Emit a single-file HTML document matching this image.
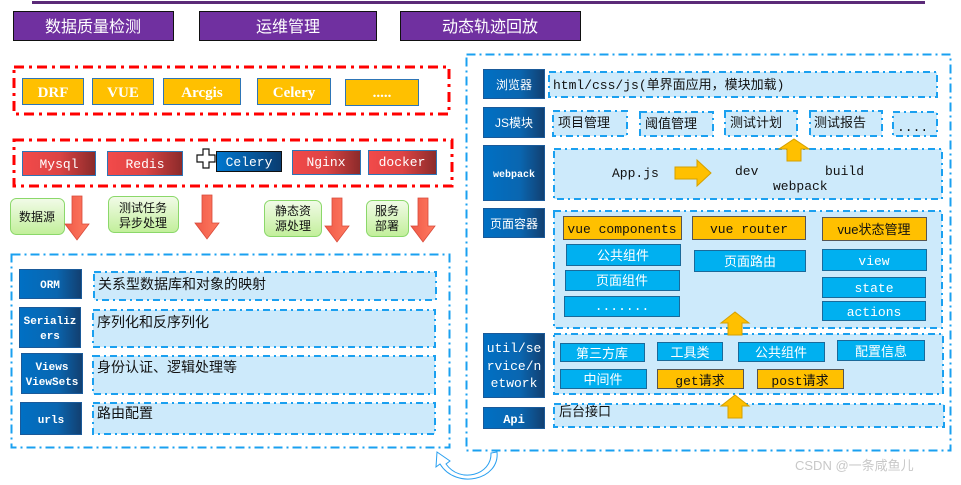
<!DOCTYPE html>
<html><head><meta charset="utf-8"><style>
html,body{margin:0;padding:0;background:#fff;width:961px;height:485px;overflow:hidden}
svg{display:block}
text{font-family:"Liberation Mono","Noto Sans CJK SC",monospace}
.cn{font-family:"Liberation Sans","Noto Sans CJK SC",sans-serif}
.sf{font-family:"Liberation Serif","Noto Serif CJK SC",serif}
.w{fill:#fff}
</style></head><body>
<svg width="961" height="485" viewBox="0 0 961 485" xmlns="http://www.w3.org/2000/svg">
<defs>
<linearGradient id="db" x1="0" x2="1"><stop offset="0" stop-color="#0070c4"/><stop offset="0.6" stop-color="#0a66b0"/><stop offset="1" stop-color="#123f70"/></linearGradient>
<linearGradient id="rd" x1="0" x2="1"><stop offset="0" stop-color="#f24a4a"/><stop offset="0.5" stop-color="#dd4444"/><stop offset="1" stop-color="#8a2a2a"/></linearGradient>
<linearGradient id="cb" x1="0" x2="1"><stop offset="0" stop-color="#0078d0"/><stop offset="1" stop-color="#0a3c70"/></linearGradient>
<linearGradient id="gr" x1="0" y1="0" x2="0" y2="1"><stop offset="0" stop-color="#f2fbe8"/><stop offset="1" stop-color="#c2ef9a"/></linearGradient>
<linearGradient id="ra" x1="0" x2="1"><stop offset="0" stop-color="#f05a48"/><stop offset="1" stop-color="#ff7a60"/></linearGradient>
</defs>

<rect x="32" y="1" width="893" height="3" fill="#5b2a78"/>
<g stroke="#111" stroke-width="1">
<rect x="13.5" y="11.5" width="160" height="29" fill="#7030a0"/>
<rect x="199.5" y="11.5" width="177" height="29" fill="#7030a0"/>
<rect x="400.5" y="11.5" width="180" height="29" fill="#7030a0"/>
</g>
<g font-size="16" text-anchor="middle">
<text x="93" y="32" class="cn w">数据质量检测</text>
<text x="288" y="32" class="cn w">运维管理</text>
<text x="490" y="32" class="cn w">动态轨迹回放</text>
</g>

<rect x="14" y="67" width="435" height="47" fill="none" stroke="#ff0000" stroke-width="3" stroke-dasharray="10 5 3 5"/>
<g fill="#ffc000" stroke="#2e75b6" stroke-width="1">
<rect x="22.5" y="78.5" width="61" height="26"/>
<rect x="92.5" y="78.5" width="61" height="26"/>
<rect x="163.5" y="78.5" width="77" height="26"/>
<rect x="257.5" y="78.5" width="73" height="26"/>
<rect x="345.5" y="79.5" width="73" height="26"/>
</g>
<g font-size="15" font-weight="bold" text-anchor="middle">
<text x="53" y="97" class="sf w">DRF</text><text x="123" y="97" class="sf w">VUE</text>
<text x="202" y="97" class="sf w">Arcgis</text><text x="294" y="97" class="sf w">Celery</text>
<text x="382" y="97" class="sf w">.....</text>
</g>

<rect x="14" y="140" width="438" height="46" fill="none" stroke="#ff0000" stroke-width="3" stroke-dasharray="10 5 3 5"/>
<g stroke="#2e75b6" stroke-width="1" fill="url(#rd)">
<rect x="22.5" y="151.5" width="73" height="24"/>
<rect x="107.5" y="151.5" width="75" height="24"/>
<rect x="292.5" y="150.5" width="68" height="24"/>
<rect x="368.5" y="150.5" width="68" height="24"/>
</g>
<rect x="216.5" y="151.5" width="65" height="20" fill="url(#cb)" stroke="#111"/>
<path d="M197 155h6v-6h6v6h6v7h-6v6h-6v-6h-6z" fill="#fff" stroke="#111" stroke-width="1.2"/>
<g font-size="13" text-anchor="middle">
<text x="59" y="168" class="w">Mysql</text><text x="145" y="168" class="w">Redis</text>
<text x="249" y="166" class="w">Celery</text><text x="326" y="166" class="w">Nginx</text>
<text x="402" y="166" class="w">docker</text>
</g>

<g fill="url(#gr)" stroke="#8bd86a" stroke-width="1">
<rect x="10.5" y="198.5" width="54" height="36" rx="6"/>
<rect x="108.5" y="196.5" width="70" height="36" rx="6"/>
<rect x="264.5" y="200.5" width="57" height="36" rx="6"/>
<rect x="366.5" y="200.5" width="42" height="36" rx="6"/>
</g>
<g font-size="12" text-anchor="middle" fill="#111">
<text x="37" y="221" class="cn">数据源</text>
<text x="143" y="212" class="cn">测试任务</text><text x="143" y="227" class="cn">异步处理</text>
<text x="293" y="215" class="cn">静态资</text><text x="293" y="230" class="cn">源处理</text>
<text x="387" y="215" class="cn">服务</text><text x="387" y="230" class="cn">部署</text>
</g>
<g fill="url(#ra)" stroke="#d84a3a" stroke-width="0.8">
<path d="M72 196h10v28h7l-12 16l-12-16h7z"/>
<path d="M202 195h10v28h7l-12 16l-12-16h7z"/>
<path d="M332 198h10v28h7l-12 16l-12-16h7z"/>
<path d="M418 198h10v28h7l-12 16l-12-16h7z"/>
</g>

<rect x="11.5" y="254.5" width="438" height="193" fill="none" stroke="#1aa0f0" stroke-width="2" stroke-dasharray="9 4 2 4"/>
<g fill="#cdeafb" stroke="#1aa0f0" stroke-width="2" stroke-dasharray="7 4 2 4">
<rect x="94" y="272" width="342" height="28"/>
<rect x="93" y="310" width="342" height="37"/>
<rect x="93" y="356" width="342" height="38"/>
<rect x="93" y="403" width="342" height="31"/>
</g>
<g fill="url(#db)" stroke="#1a5a9a" stroke-width="1">
<rect x="19.5" y="269.5" width="62" height="29"/>
<rect x="19.5" y="307.5" width="61" height="40"/>
<rect x="21.5" y="353.5" width="61" height="40"/>
<rect x="20.5" y="402.5" width="61" height="32"/>
</g>
<g font-size="11" text-anchor="middle" font-weight="bold">
<text x="50" y="288" class="w">ORM</text>
<text x="50" y="324" class="w">Serializ</text><text x="50" y="339" class="w">ers</text>
<text x="52" y="370" class="w">Views</text><text x="52" y="385" class="w">ViewSets</text>
<text x="51" y="423" class="w">urls</text>
</g>
<g font-size="14" fill="#111">
<text x="98" y="289" class="cn">关系型数据库和对象的映射</text>
<text x="97" y="327" class="cn">序列化和反序列化</text>
<text x="97" y="372" class="cn">身份认证、逻辑处理等</text>
<text x="97" y="418" class="cn">路由配置</text>
</g>
<path d="M491 453 C492 475 460 484 446 464 L450 461 L437 452 L436 467 L440 464 C456 490 500 480 497 452 Z" fill="#fff" stroke="#2aa0f0" stroke-width="1"/>

<rect x="466.5" y="54.5" width="484" height="396" fill="none" stroke="#1aa0f0" stroke-width="2" stroke-dasharray="9 4 2 4"/>
<g fill="#cdeafb" stroke="#1aa0f0" stroke-width="2" stroke-dasharray="7 4 2 4">
<rect x="549" y="72" width="388" height="25"/>
<rect x="553" y="111" width="74" height="25"/>
<rect x="640" y="112" width="73" height="24"/>
<rect x="725" y="111" width="72" height="25"/>
<rect x="810" y="111" width="72" height="25"/>
<rect x="893" y="112" width="44" height="24"/>
<rect x="554" y="149" width="388" height="50"/>
<rect x="554" y="211" width="388" height="117"/>
<rect x="554" y="334" width="389" height="60"/>
<rect x="554" y="404" width="390" height="23"/>
</g>
<g fill="url(#db)" stroke="#1a5a9a" stroke-width="1">
<rect x="483.5" y="69.5" width="61" height="29"/>
<rect x="483.5" y="107.5" width="61" height="30"/>
<rect x="483.5" y="145.5" width="61" height="55"/>
<rect x="483.5" y="208.5" width="61" height="29"/>
<rect x="483.5" y="333.5" width="61" height="64"/>
<rect x="483.5" y="407.5" width="61" height="21"/>
</g>
<g font-size="12" text-anchor="middle">
<text x="514" y="89" class="cn w">浏览器</text>
<text x="514" y="127" class="cn w">JS模块</text>
<text x="514" y="177" class="w" font-size="10" font-weight="bold">webpack</text>
<text x="514" y="228" class="cn w">页面容器</text>
<text x="514" y="352" class="w" font-size="13">util/se</text>
<text x="514" y="370" class="w" font-size="13">rvice/n</text>
<text x="514" y="387" class="w" font-size="13">etwork</text>
<text x="514" y="423" class="w" font-size="12" font-weight="bold">Api</text>
</g>
<g fill="#111" font-size="13">
<text x="553" y="89">html/css/js(单界面应用，模块加载)</text>
<text x="558" y="127" class="cn">项目管理</text>
<text x="645" y="128" class="cn">阈值管理</text>
<text x="730" y="127" class="cn">测试计划</text>
<text x="814" y="127" class="cn">测试报告</text>
<text x="897" y="131">....</text>
<text x="612" y="177">App.js</text>
<text x="735" y="175">dev</text>
<text x="825" y="175">build</text>
<text x="773" y="190">webpack</text>
<text x="559" y="416" class="cn">后台接口</text>
</g>
<g fill="#ffc000" stroke="#d4a000" stroke-width="1">
<path d="M675 167h22v-7l14 13l-14 13v-7h-22z"/>
<path d="M787 161v-12h-8l15 -10l15 10h-8v12z"/>
<path d="M728 335v-12h-7l14 -11l14 11h-7v12z"/>
<path d="M728 418v-12h-7l14 -11l14 11h-7v12z"/>
</g>
<g fill="#ffc000" stroke="#555" stroke-width="1">
<rect x="563.5" y="216.5" width="118" height="23"/>
<rect x="692.5" y="216.5" width="113" height="23"/>
<rect x="822.5" y="217.5" width="104" height="23"/>
<rect x="657.5" y="369.5" width="86" height="19"/>
<rect x="757.5" y="369.5" width="86" height="19"/>
</g>
<g fill="#00b0f0" stroke="#1a6a9a" stroke-width="1">
<rect x="566.5" y="244.5" width="114" height="21"/>
<rect x="565.5" y="270.5" width="114" height="20"/>
<rect x="564.5" y="296.5" width="115" height="20"/>
<rect x="694.5" y="250.5" width="111" height="21"/>
<rect x="822.5" y="249.5" width="104" height="21"/>
<rect x="822.5" y="277.5" width="103" height="20"/>
<rect x="822.5" y="301.5" width="103" height="19"/>
<rect x="560.5" y="343.5" width="84" height="18"/>
<rect x="657.5" y="342.5" width="65" height="18"/>
<rect x="738.5" y="342.5" width="86" height="19"/>
<rect x="837.5" y="340.5" width="87" height="20"/>
<rect x="560.5" y="369.5" width="86" height="19"/>
</g>
<g font-size="13" text-anchor="middle" fill="#111">
<text x="622" y="233">vue components</text>
<text x="749" y="233">vue router</text>
<text x="874" y="234" class="cn">vue状态管理</text>
<text x="700" y="385">get请求</text>
<text x="800" y="385">post请求</text>
</g>
<g font-size="13" text-anchor="middle">
<text x="623" y="260" class="cn w">公共组件</text>
<text x="622" y="285" class="cn w">页面组件</text>
<text x="622" y="310" class="w">.......</text>
<text x="750" y="266" class="cn w">页面路由</text>
<text x="874" y="265" class="w">view</text>
<text x="874" y="292" class="w">state</text>
<text x="874" y="316" class="w">actions</text>
<text x="602" y="358" class="cn w">第三方库</text>
<text x="690" y="357" class="cn w">工具类</text>
<text x="781" y="357" class="cn w">公共组件</text>
<text x="881" y="356" class="cn w">配置信息</text>
<text x="603" y="384" class="cn w">中间件</text>
</g>
<text x="795" y="470" font-size="13" fill="#c8c8c8" class="cn">CSDN @一条咸鱼儿</text>
</svg>
</body></html>
